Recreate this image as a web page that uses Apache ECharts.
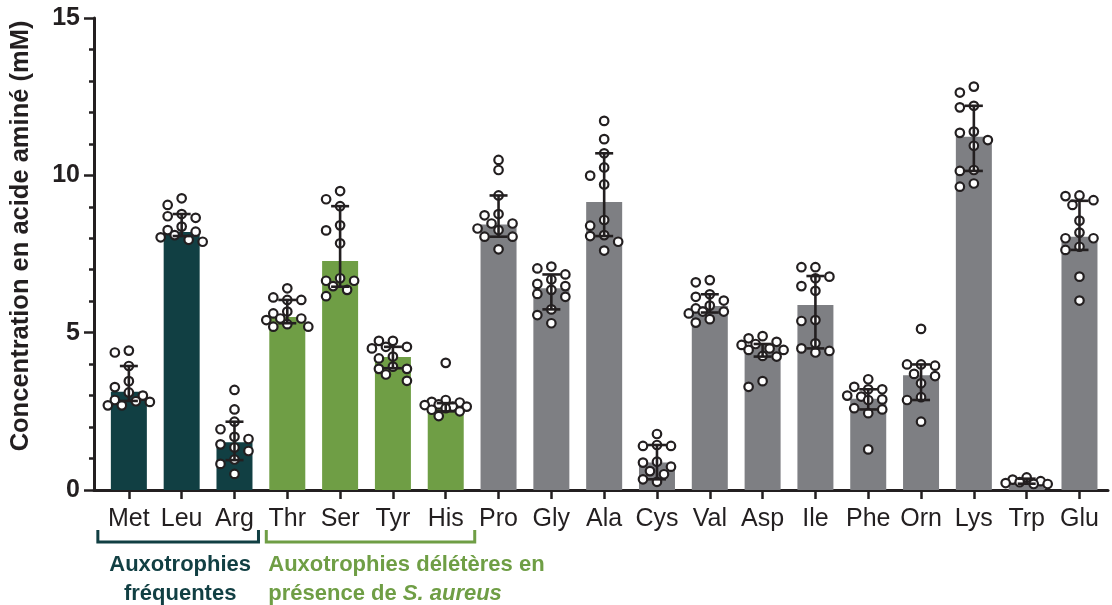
<!DOCTYPE html>
<html>
<head>
<meta charset="utf-8">
<script src="https://cdn.jsdelivr.net/npm/echarts@6/dist/echarts.min.js"></script>
<style>
html,body{margin:0;padding:0;background:#fff;}
#main{width:1112px;height:605px;}
</style>
</head>
<body>
<div id="main"></div>
<script>
// ---------- DATA ----------
const categories = ['Met','Leu','Arg','Thr','Ser','Tyr','His','Pro','Gly','Ala','Cys','Val','Asp','Ile','Phe','Orn','Lys','Trp','Glu'];
const groups = ['freq','freq','freq','del','del','del','del','other','other','other','other','other','other','other','other','other','other','other','other'];
const medians = [3.12, 8.20, 1.52, 5.50, 7.28, 4.23, 2.60, 8.44, 6.41, 9.15, 0.87, 5.85, 4.61, 5.88, 2.90, 3.65, 11.23, 0.25, 8.05];
const errLow  = [2.83, 8.07, 0.95, 5.30, 6.46, 3.87, 2.50, 8.05, 5.74, 8.07, 0.34, 5.64, 4.24, 4.50, 2.56, 2.86, 10.14, 0.20, 7.63];
const errHigh = [3.94, 8.77, 2.17, 6.04, 9.02, 4.55, 2.76, 9.36, 6.85, 10.70, 1.43, 6.22, 4.64, 6.80, 3.20, 3.99, 12.21, 0.36, 9.19];

const ptsMet = [4.43, 4.37, 3.94, 3.46, 3.27, 3.10, 3.00, 2.86, 2.82, 2.80, 2.69, 2.69];
const ptsLeu = [9.27, 9.06, 8.77, 8.70, 8.65, 8.37, 8.26, 8.21, 8.10, 8.03, 7.95, 7.89];
const ptsArg = [3.18, 2.56, 2.17, 1.93, 1.69, 1.62, 1.45, 1.35, 1.24, 0.97, 0.83, 0.51];
const ptsThr = [6.41, 6.12, 6.04, 6.04, 5.67, 5.61, 5.45, 5.45, 5.40, 5.27, 5.19, 5.19];
const ptsSer = [9.50, 9.24, 9.02, 8.41, 8.25, 7.84, 6.73, 6.65, 6.65, 6.48, 6.36, 6.16];
const ptsTyr = [4.74, 4.74, 4.55, 4.55, 4.50, 4.24, 4.18, 3.92, 3.85, 3.85, 3.67, 3.47];
const ptsHis = [4.04, 2.86, 2.80, 2.78, 2.72, 2.70, 2.65, 2.65, 2.60, 2.55, 2.50, 2.35];
const ptsPro = [10.49, 10.17, 9.36, 8.77, 8.73, 8.47, 8.47, 8.31, 8.26, 8.05, 8.05, 7.65];
const ptsGly = [7.10, 7.04, 6.85, 6.69, 6.55, 6.48, 6.36, 6.23, 6.14, 5.74, 5.56, 5.30];
const ptsAla = [11.73, 11.15, 10.70, 10.25, 9.99, 9.71, 8.58, 8.40, 8.10, 8.07, 7.89, 7.61];
const ptsCys = [1.78, 1.43, 1.40, 1.40, 0.90, 0.87, 0.74, 0.60, 0.50, 0.34, 0.26];
const ptsVal = [6.67, 6.60, 6.22, 6.14, 6.02, 5.86, 5.77, 5.67, 5.67, 5.61, 5.43, 5.32];
const ptsAsp = [4.89, 4.82, 4.71, 4.64, 4.61, 4.50, 4.45, 4.45, 4.26, 4.24, 3.46, 3.28];
const ptsIle = [7.08, 7.08, 6.78, 6.73, 6.48, 6.33, 5.40, 5.37, 4.66, 4.50, 4.42, 4.37];
const ptsPhe = [3.52, 3.28, 3.20, 3.20, 3.00, 2.97, 2.88, 2.86, 2.60, 2.56, 2.44, 1.29];
const ptsOrn = [5.12, 3.99, 3.99, 3.95, 3.69, 3.62, 3.39, 2.95, 2.86, 2.17];
const ptsLys = [12.82, 12.63, 12.21, 12.16, 11.39, 11.35, 11.12, 10.94, 10.17, 10.14, 9.74, 9.64];
const ptsTrp = [0.40, 0.33, 0.28, 0.25, 0.22, 0.19, 0.19];
const ptsGlu = [9.36, 9.34, 9.21, 9.06, 8.56, 8.18, 8.00, 8.00, 7.73, 7.63, 6.78, 6.02];
const pointsByCat = [ptsMet, ptsLeu, ptsArg, ptsThr, ptsSer, ptsTyr, ptsHis, ptsPro, ptsGly, ptsAla, ptsCys, ptsVal, ptsAsp, ptsIle, ptsPhe, ptsOrn, ptsLys, ptsTrp, ptsGlu];

const yTicks = [0, 5, 10, 15];
const yTitle = 'Concentration en acide aminé (mM)';
const groupLabel1 = 'Auxotrophies\nfréquentes';
const groupLabel2a = 'Auxotrophies délétères en';
const groupLabel2b = 'présence de ';
const groupLabel2c = 'S. aureus';

// ---------- STYLE ----------
const INK = '#231f20';
const groupColors = { freq: '#113f43', del: '#6f9e45', other: '#7e7f83' };
const labelColors = { freq: '#113f43', del: '#6f9e45' };
const FONT = '"Liberation Sans", Arial, Helvetica, sans-serif';

const idx = categories.map((_, i) => i);

const chart = echarts.init(document.getElementById('main'));

const option = {
  animation: false,
  backgroundColor: '#fff',
  textStyle: { fontFamily: FONT },
  grid: { left: 92, right: 4, top: 18, bottom: 115 },
  xAxis: {
    type: 'value',
    min: -0.66,
    max: 18.54,
    splitLine: { show: false },
    axisLine: { show: true, onZero: false, lineStyle: { color: INK, width: 3 } },
    axisTick: { show: true, customValues: idx, length: 9, lineStyle: { color: INK, width: 2.5 } },
    axisLabel: {
      customValues: idx,
      formatter: v => categories[Math.round(v)] || '',
      fontSize: 25, color: INK, fontFamily: FONT, margin: 17
    }
  },
  yAxis: {
    type: 'value',
    min: yTicks[0],
    max: yTicks[yTicks.length - 1],
    interval: 5,
    name: yTitle,
    nameLocation: 'middle',
    nameRotate: 90,
    nameGap: 60,
    nameTextStyle: { fontSize: 25.5, fontWeight: 'bold', color: INK, fontFamily: FONT, padding: [0, 0, 0, 36] },
    splitLine: { show: false },
    axisLine: { show: true, onZero: false, lineStyle: { color: INK, width: 3 } },
    axisTick: { show: true, length: 10, lineStyle: { color: INK, width: 2.5 } },
    minorTick: { show: true, splitNumber: 5, length: 5, lineStyle: { color: INK, width: 2.5 } },
    axisLabel: { fontSize: 25, fontWeight: 'bold', color: INK, fontFamily: FONT, margin: 14 }
  },
  series: [
    {
      type: 'bar',
      barWidth: 36,
      z: 1,
      data: medians.map((v, i) => ({ value: [i, v], itemStyle: { color: groupColors[groups[i]] } }))
    },
    {
      type: 'scatter',
      id: 'pts',
      z: 3,
      symbol: 'circle',
      symbolSize: 8.5,
      itemStyle: { color: '#ffffff', borderColor: INK, borderWidth: 2.2, opacity: 1 },
      data: []
    },
    {
      type: 'custom',
      z: 5,
      data: idx.map(i => [i, errLow[i], errHigh[i]]),
      renderItem: function (params, api) {
        const x = api.value(0);
        const lo = api.coord([x, api.value(1)]);
        const hi = api.coord([x, api.value(2)]);
        const cap = 9;
        const st = { stroke: INK, lineWidth: 2.6, fill: null };
        return {
          type: 'group',
          children: [
            { type: 'line', shape: { x1: lo[0], y1: lo[1], x2: hi[0], y2: hi[1] }, style: st },
            { type: 'line', shape: { x1: hi[0] - cap, y1: hi[1], x2: hi[0] + cap, y2: hi[1] }, style: st },
            { type: 'line', shape: { x1: lo[0] - cap, y1: lo[1], x2: lo[0] + cap, y2: lo[1] }, style: st }
          ]
        };
      }
    }
  ]
};

chart.setOption(option);

// ---------- BEESWARM LAYOUT (pixel-space, deterministic) ----------
const px0 = chart.convertToPixel({ xAxisIndex: 0 }, 0);
const pxPerX = chart.convertToPixel({ xAxisIndex: 0 }, 1) - px0;
const py0 = chart.convertToPixel({ yAxisIndex: 0 }, 0);
const pxPerY = py0 - chart.convertToPixel({ yAxisIndex: 0 }, 1);
const minDist = 10;
const candidates = [0, -14, 14, -7, 7, -21, 21];

const scatterData = [];
pointsByCat.forEach((vals, ci) => {
  const placed = [];
  vals.forEach(v => {
    const py = v * pxPerY;
    let chosen = 0;
    let best = -1;
    for (const off of candidates) {
      let dmin = Infinity;
      for (const p of placed) {
        const dx = p[0] - off, dy = p[1] - py;
        dmin = Math.min(dmin, Math.sqrt(dx * dx + dy * dy));
      }
      if (dmin >= minDist) { chosen = off; break; }
      if (dmin > best) { best = dmin; chosen = off; }
    }
    placed.push([chosen, py]);
    scatterData.push([ci + chosen / pxPerX, v]);
  });
});

// ---------- GROUP ANNOTATIONS ----------
const cx = i => chart.convertToPixel({ xAxisIndex: 0 }, i);
const yb = py0;
const bTop = yb + 40, bBot = yb + 52;
const b1L = cx(0) - 31, b1R = cx(2) + 24;
const b2L = cx(3) - 21, b2R = cx(6) + 29;

chart.setOption({
  series: [{ id: 'pts', data: scatterData }],
  graphic: [
    {
      type: 'polyline',
      shape: { points: [[b1L, bTop], [b1L, bBot], [b1R, bBot], [b1R, bTop]] },
      style: { stroke: labelColors.freq, lineWidth: 3, fill: null }
    },
    {
      type: 'polyline',
      shape: { points: [[b2L, bTop], [b2L, bBot], [b2R, bBot], [b2R, bTop]] },
      style: { stroke: labelColors.del, lineWidth: 3, fill: null }
    },
    {
      type: 'text',
      x: (b1L + b1R) / 2 + 2,
      y: yb + 60,
      style: {
        text: groupLabel1, align: 'center', verticalAlign: 'top',
        fontSize: 22, fontWeight: 'bold', lineHeight: 29, fill: labelColors.freq, fontFamily: FONT
      }
    },
    {
      type: 'text',
      x: b2L + 2,
      y: yb + 60,
      style: {
        text: groupLabel2a + '\n' + groupLabel2b + '{i|' + groupLabel2c + '}',
        align: 'left', verticalAlign: 'top',
        fontSize: 22, fontWeight: 'bold', lineHeight: 29, fill: labelColors.del, fontFamily: FONT,
        rich: { i: { fontStyle: 'italic', fontWeight: 'bold', fontSize: 22, lineHeight: 29, fill: labelColors.del, fontFamily: FONT } }
      }
    }
  ]
});
</script>
</body>
</html>
